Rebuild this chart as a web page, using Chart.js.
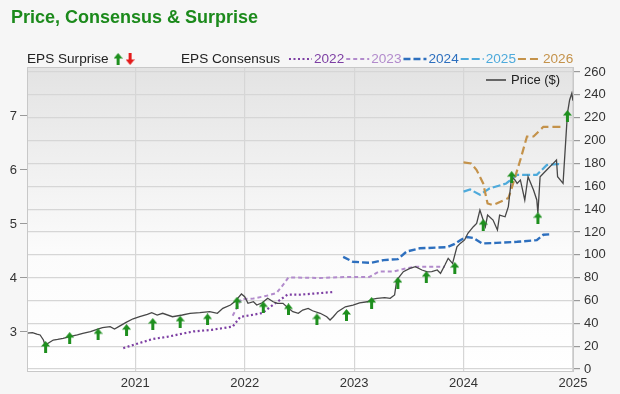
<!DOCTYPE html>
<html>
<head>
<meta charset="utf-8">
<script src="https://cdn.jsdelivr.net/npm/chart.js@4.4.1/dist/chart.umd.min.js"></script>
<style>
	html, body { margin: 0; padding: 0; background: #f6f6f6; }
	#wrap { width: 620px; height: 394px; position: relative; }
</style>
</head>
<body>
<div id="wrap"><canvas id="epsChart"></canvas></div>
<script>
// price line (right axis, $)
const priceDates = [2020.01, 2020.06, 2020.10, 2020.13, 2020.16, 2020.18, 2020.20, 2020.25, 2020.29, 2020.34,
	2020.40, 2020.47, 2020.52, 2020.59, 2020.65, 2020.70, 2020.77, 2020.81, 2020.86, 2020.92,
	2020.98, 2021.04, 2021.11, 2021.15, 2021.20, 2021.25, 2021.34, 2021.43, 2021.50, 2021.59,
	2021.68, 2021.75, 2021.80, 2021.87, 2021.91, 2021.97, 2022.00, 2022.03, 2022.08, 2022.11,
	2022.16, 2022.21, 2022.26, 2022.30, 2022.35, 2022.40, 2022.44, 2022.49, 2022.53, 2022.58,
	2022.62, 2022.69, 2022.75, 2022.78, 2022.81, 2022.85, 2022.92, 2022.99, 2023.05, 2023.12,
	2023.16, 2023.21, 2023.28, 2023.33, 2023.37, 2023.39, 2023.45, 2023.51, 2023.56, 2023.62,
	2023.67, 2023.71, 2023.76, 2023.79, 2023.83, 2023.86, 2023.90, 2023.94, 2023.97, 2024.01,
	2024.04, 2024.09, 2024.12, 2024.15, 2024.17, 2024.20, 2024.22, 2024.27, 2024.31, 2024.33,
	2024.38, 2024.41, 2024.44, 2024.47, 2024.49, 2024.52, 2024.56, 2024.59, 2024.64, 2024.67,
	2024.68, 2024.70, 2024.76, 2024.82, 2024.85, 2024.86, 2024.91, 2024.95, 2024.97, 2024.99, 2025.00];
const priceValues = [31.5, 31.8, 30.6, 29.8, 25.4, 19.5, 22.4, 25.4, 25.9, 26.8,
	28.3, 29.8, 31.2, 32.7, 34.7, 36.2, 37.1, 35.0, 37.8, 41.0,
	44.0, 45.8, 47.9, 49.3, 47.3, 48.8, 45.8, 47.3, 48.8, 49.3,
	50.2, 48.8, 53.1, 56.0, 59.0, 65.7, 63.3, 57.5, 58.9, 56.0,
	58.0, 61.9, 58.9, 57.5, 57.5, 53.1, 50.2, 48.8, 51.6, 53.1,
	51.0, 48.8, 45.8, 42.9, 45.8, 50.2, 54.5, 56.0, 58.0, 58.9,
	61.0, 61.9, 62.5, 61.9, 64.8, 77.9, 85.2, 88.1, 89.6, 86.7,
	85.0, 85.2, 86.7, 83.7, 91.0, 96.9, 92.5, 107.0, 110.0, 113.0,
	118.8, 124.6, 127.5, 139.2, 133.3, 124.6, 134.8, 130.4, 121.7, 134.8,
	133.3, 142.2, 168.3, 165.5, 162.5, 165.5, 148.0, 168.3, 156.7, 148.0,
	136.3, 168.3, 174.2, 180.0, 183.0, 168.3, 162.5, 223.8, 235.5, 241.4, 235.0];

// EPS surprise arrows (placed on the price axis)
const surpriseDates = [2020.18, 2020.40, 2020.66, 2020.92, 2021.16, 2021.41, 2021.66, 2021.93, 2022.17, 2022.40,
	2022.66, 2022.93, 2023.16, 2023.40, 2023.66, 2023.92, 2024.18, 2024.44, 2024.68, 2024.95];
const surpriseValues = [19.3, 27.1, 30.4, 34.1, 39.4, 41.4, 43.4, 58.0, 54.0, 52.2,
	43.4, 47.3, 57.8, 75.3, 80.5, 88.4, 126.0, 168.0, 132.0, 221.5];

// EPS consensus by fiscal year (left axis)
const eps2022Dates = [2020.89, 2020.98, 2021.16, 2021.29, 2021.53, 2021.70, 2021.89, 2021.96, 2022.05, 2022.16, 2022.23, 2022.32, 2022.39, 2022.50, 2022.81];
const eps2022Values = [2.70, 2.76, 2.87, 2.91, 3.01, 3.04, 3.10, 3.28, 3.31, 3.35, 3.46, 3.59, 3.69, 3.69, 3.74];
const eps2023Dates = [2021.89, 2021.97, 2022.08, 2022.20, 2022.29, 2022.35, 2022.40, 2022.69, 2022.96, 2023.14, 2023.23, 2023.36, 2023.48, 2023.57, 2023.83];
const eps2023Values = [3.30, 3.61, 3.62, 3.67, 3.72, 3.87, 4.01, 4.00, 4.02, 4.02, 4.12, 4.12, 4.18, 4.21, 4.21];
const eps2024Dates = [2022.90, 2022.99, 2023.15, 2023.27, 2023.40, 2023.48, 2023.60, 2023.85, 2023.92, 2023.97, 2024.03, 2024.09, 2024.17, 2024.30, 2024.49, 2024.67, 2024.73, 2024.81];
const eps2024Values = [4.39, 4.30, 4.28, 4.33, 4.35, 4.49, 4.55, 4.57, 4.63, 4.70, 4.76, 4.74, 4.64, 4.65, 4.67, 4.70, 4.80, 4.81];
const eps2025Dates = [2024.00, 2024.06, 2024.15, 2024.24, 2024.39, 2024.49, 2024.67, 2024.76, 2024.85, 2024.90];
const eps2025Values = [5.60, 5.64, 5.54, 5.66, 5.75, 5.91, 5.91, 6.09, 6.11, 6.11];
const eps2026Dates = [2024.00, 2024.07, 2024.12, 2024.18, 2024.22, 2024.27, 2024.41, 2024.44, 2024.52, 2024.58, 2024.64, 2024.73, 2024.91];
const eps2026Values = [6.14, 6.12, 6.00, 5.75, 5.38, 5.35, 5.48, 5.66, 6.19, 6.62, 6.62, 6.80, 6.80];

const yearTicks = [2021, 2022, 2023, 2024, 2025];
const priceTicks = [0, 20, 40, 60, 80, 100, 120, 140, 160, 180, 200, 220, 240, 260];
const epsTicks = [3, 4, 5, 6, 7];
const fyLabels = ['2022', '2023', '2024', '2025', '2026'];

const FONT = '"Liberation Sans", Arial, sans-serif';
Chart.defaults.font.family = FONT;

function pts(xs, ys) {
	return xs.map((x, i) => ({ x: x, y: ys[i] }));
}

function makeArrow(color, up) {
	const c = document.createElement('canvas');
	c.width = 9; c.height = 12;
	const g = c.getContext('2d');
	g.fillStyle = color;
	g.beginPath();
	if (up) {
		g.moveTo(4.5, 0); g.lineTo(9, 5.5); g.lineTo(6, 5.5); g.lineTo(6, 12);
		g.lineTo(3, 12); g.lineTo(3, 5.5); g.lineTo(0, 5.5);
	} else {
		g.moveTo(4.5, 12); g.lineTo(9, 6.5); g.lineTo(6, 6.5); g.lineTo(6, 0);
		g.lineTo(3, 0); g.lineTo(3, 6.5); g.lineTo(0, 6.5);
	}
	g.closePath();
	g.fill();
	return c;
}
const arrowUp = makeArrow('#1e8f1e', true);
const arrowDown = makeArrow('#e41b1b', false);

const fyStyles = [
	{ color: '#7d3fa3', dash: [2, 2.5], width: 2.2 },
	{ color: '#b28bcc', dash: [4, 3], width: 2 },
	{ color: '#2d6fbe', dash: [7, 3], width: 2.4 },
	{ color: '#4eaadb', dash: [8, 3], width: 2.2 },
	{ color: '#c4924a', dash: [8, 4], width: 2.2 }
];

// background + frame, title, legends
const decor = {
	id: 'decor',
	beforeDraw(chart) {
		const { ctx, chartArea: a } = chart;
		ctx.save();
		const grad = ctx.createLinearGradient(0, a.top, 0, a.bottom);
		grad.addColorStop(0, '#e3e3e3');
		grad.addColorStop(0.6, '#fbfbfb');
		grad.addColorStop(1, '#ffffff');
		ctx.fillStyle = grad;
		ctx.fillRect(a.left, a.top, a.right - a.left, a.bottom - a.top);
		ctx.restore();
	},
	afterDatasetsDraw(chart) {
		const { ctx, chartArea: a } = chart;
		ctx.save();
		ctx.strokeStyle = '#c8c8c8';
		ctx.lineWidth = 1;
		ctx.strokeRect(a.left + 0.5, a.top + 0.5, a.right - a.left - 1, a.bottom - a.top - 1);
		ctx.restore();
	},
	afterDraw(chart) {
		const { ctx, chartArea: a } = chart;
		ctx.save();
		ctx.textBaseline = 'middle';
		ctx.textAlign = 'left';
		// title
		ctx.font = 'bold 18px ' + FONT;
		ctx.fillStyle = '#1c8a1c';
		ctx.fillText('Price, Consensus & Surprise', 11, 18);

		// legend row
		const ly = 59;
		ctx.font = '13.6px ' + FONT;
		ctx.fillStyle = '#222';
		ctx.fillText('EPS Surprise', a.left, ly);
		let x = a.left + ctx.measureText('EPS Surprise').width + 5;
		ctx.drawImage(arrowUp, x, ly - 6);
		ctx.drawImage(arrowDown, x + 12, ly - 6);

		ctx.fillStyle = '#222';
		ctx.fillText('EPS Consensus', 181, ly);
		x = 181 + ctx.measureText('EPS Consensus').width + 9;
		fyLabels.forEach((lab, i) => {
			const s = fyStyles[i];
			ctx.strokeStyle = s.color;
			ctx.lineWidth = s.width;
			ctx.setLineDash(s.dash);
			ctx.beginPath();
			ctx.moveTo(x, ly);
			ctx.lineTo(x + 23, ly);
			ctx.stroke();
			ctx.setLineDash([]);
			x += 25;
			ctx.fillStyle = s.color;
			ctx.fillText(lab, x, ly);
			x += ctx.measureText(lab).width + 2;
		});

		// price legend inside the plot
		const py = 80;
		ctx.strokeStyle = '#666';
		ctx.lineWidth = 2;
		ctx.beginPath();
		ctx.moveTo(486, py);
		ctx.lineTo(506, py);
		ctx.stroke();
		ctx.fillStyle = '#222';
		ctx.font = '13px ' + FONT;
		ctx.fillText('Price ($)', 511, py);
		ctx.restore();
	}
};

const ctx = document.getElementById('epsChart').getContext('2d');
const epsChart = new Chart(ctx, {
	type: 'line',
	data: {
	datasets: [
	{
		type: 'scatter',
		label: 'EPS Surprise',
		data: pts(surpriseDates, surpriseValues),
		yAxisID: 'priceAxis',
		pointStyle: arrowUp,
		pointRadius: 5
	},
	{
		label: 'Price ($)',
		data: pts(priceDates, priceValues),
		yAxisID: 'priceAxis',
		borderColor: '#474747',
		borderWidth: 1.3,
		tension: 0,
		pointRadius: 0
	}
	].concat([eps2026Dates, eps2025Dates, eps2024Dates, eps2023Dates, eps2022Dates].map((d, k) => {
		const i = 4 - k;
		const vals = [eps2022Values, eps2023Values, eps2024Values, eps2025Values, eps2026Values][i];
		return {
			label: fyLabels[i],
			data: pts(d, vals),
			yAxisID: 'epsAxis',
			borderColor: fyStyles[i].color,
			borderDash: fyStyles[i].dash,
			borderWidth: fyStyles[i].width,
			borderCapStyle: 'butt',
			tension: 0,
			pointRadius: 0
		};
	}))
	},
	options: {
	animation: false,
	responsive: true,
	maintainAspectRatio: false,
	layout: { padding: { top: 67, left: 0, right: 0, bottom: 0 } },
	scales: {
		x: {
			type: 'linear',
			min: 2020.01,
			max: 2025.01,
			afterBuildTicks: s => { s.ticks = yearTicks.map(v => ({ value: v })); },
			afterFit: s => { s.height = 22; },
			ticks: { callback: v => String(v), color: '#333', font: { size: 13 }, padding: 4, maxRotation: 0 },
			grid: { color: '#d6d6d6', lineWidth: 1.2, drawTicks: false },
			border: { display: false }
		},
		epsAxis: {
			type: 'linear',
			position: 'left',
			min: 2.259,
			max: 7.907,
			afterBuildTicks: s => { s.ticks = epsTicks.map(v => ({ value: v })); },
			afterFit: s => { s.width = 27; },
			ticks: { color: '#333', font: { size: 13 }, padding: 3 },
			grid: { drawOnChartArea: false, tickLength: 7, tickColor: '#9a9a9a' },
			border: { display: false }
		},
		priceAxis: {
			type: 'linear',
			position: 'right',
			min: -2.6,
			max: 264.4,
			afterBuildTicks: s => { s.ticks = priceTicks.map(v => ({ value: v })); },
			afterFit: s => { s.width = 46; },
			ticks: { color: '#333', font: { size: 13 }, padding: 4 },
			grid: { color: '#d6d6d6', lineWidth: 1.2, tickLength: 6, tickColor: '#9a9a9a' },
			border: { display: false }
		}
	},
	plugins: {
		legend: { display: false },
		tooltip: { enabled: false }
	}
	},
	plugins: [decor]
});
</script>
</body>
</html>
